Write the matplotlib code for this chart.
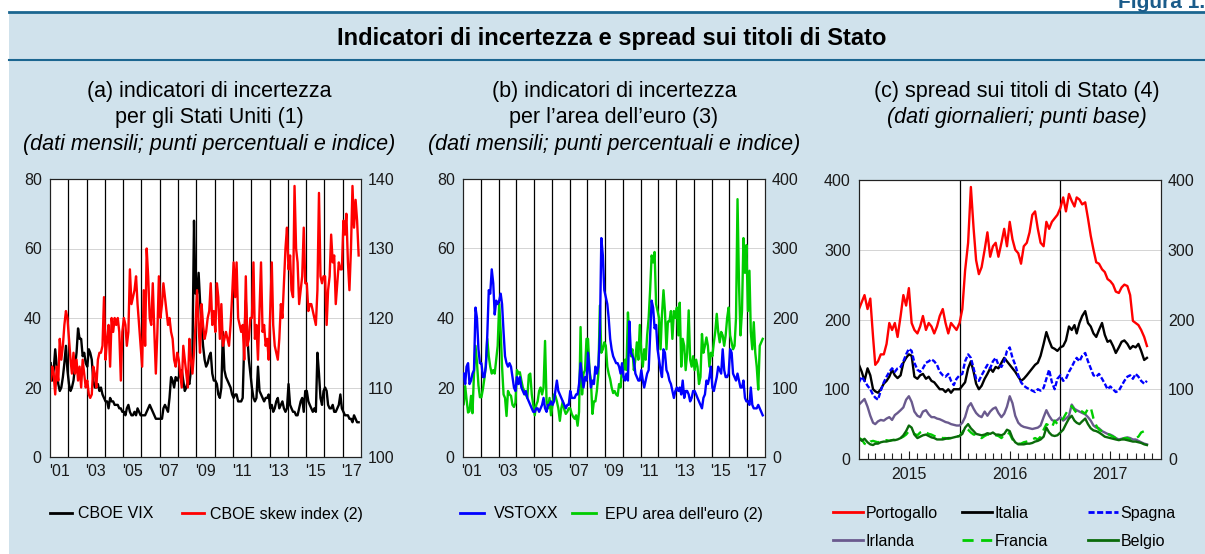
"""
Indicatori di incertezza e spread sui titoli di Stato (three panels)
"""

import matplotlib

matplotlib.use("Agg")
import matplotlib.pyplot as plt
import pandas as pd
from matplotlib.lines import Line2D
from matplotlib.patches import Rectangle

plt.rcParams["font.family"] = ["Liberation Sans", "DejaVu Sans"]

### ---------------- data ---------------- ###
# (a) monthly, Jan 2001 - Nov 2017
cboe_vix = [
    27, 22, 25, 31, 26, 21, 19, 20, 23, 27, 32, 25,
    21, 19, 20, 22, 26, 30, 37, 34, 34, 29, 30, 27,
    26, 31, 30, 28, 22, 20, 20, 21, 19, 20, 18, 17,
    16, 16, 14, 17, 16, 16, 15, 15, 15, 14, 14, 13,
    13, 12, 14, 15, 13, 12, 12, 13, 12, 14, 13, 12,
    12, 12, 12, 13, 14, 15, 14, 13, 12, 11, 11, 11,
    11, 11, 14, 15, 14, 13, 17, 23, 22, 20, 23, 22,
    23, 24, 25, 22, 19, 20, 22, 21, 25, 30, 68, 47,
    47, 53, 45, 38, 32, 28, 26, 27, 29, 30, 24, 22,
    22, 21, 18, 17, 20, 36, 25, 23, 22, 21, 20, 18,
    17, 18, 18, 16, 16, 16, 17, 33, 45, 35, 28, 24,
    20, 17, 16, 17, 26, 19, 18, 17, 16, 17, 17, 18,
    14, 15, 13, 14, 16, 17, 14, 15, 16, 14, 13, 14,
    21, 15, 14, 13, 13, 12, 12, 14, 16, 17, 13, 19,
    19, 16, 15, 14, 13, 14, 13, 30, 24, 17, 15, 19,
    20, 19, 15, 14, 14, 15, 13, 13, 14, 15, 18, 14,
    13, 12, 12, 12, 11, 11, 10, 12, 11, 10, 10,
]
cboe_skew = [
    111, 113, 112, 109, 113, 111, 117, 114, 116, 119, 121, 120,
    117, 114, 112, 115, 112, 114, 111, 113, 110, 114, 112, 110,
    111, 109, 108.5, 109, 113, 112, 110, 114, 115, 115, 116, 123,
    114, 117, 119, 113, 120, 118, 120, 119, 120, 118, 111, 118,
    120, 119, 116, 118, 127, 122, 123, 124, 126, 122, 119, 116,
    113, 124, 116, 130, 126, 120, 119, 125, 118, 112, 118, 126,
    120, 122, 125, 123, 121, 119, 120, 118, 117, 114, 113, 115,
    114, 112, 110, 116, 114, 112, 110, 117, 114, 112, 115, 119,
    124, 119, 115, 122, 119, 117, 118, 120, 121, 125, 119, 121,
    118, 125, 123, 117, 122, 116, 117, 118, 117, 116, 119, 123,
    128, 123, 128, 120, 119, 118, 119, 114, 126, 116, 117, 120,
    120, 128, 117, 119, 114, 121, 128, 118, 119, 116, 117, 114,
    121, 128, 119, 116, 115, 114, 117, 122, 120, 125, 130, 133,
    127, 129, 124, 123, 139, 130, 128, 122, 124, 126, 133, 125,
    125, 121, 122, 122, 121, 120, 119, 124, 138, 126, 125, 126,
    126, 119, 124, 126, 132, 128, 129, 122, 125, 128, 127, 127,
    134, 132, 135, 128, 124, 130, 139, 133, 137, 134, 129,
]
# (b) monthly, Jan 2001 - Nov 2017
vstoxx = [
    24, 21, 26, 27, 21, 22, 24, 25, 43, 40, 31, 27,
    27, 23, 23, 26, 35, 48, 47, 54, 50, 41, 45, 44,
    45, 47, 44, 36, 29, 27, 26, 27, 26, 23, 20, 19,
    23, 21, 23, 20, 19, 18, 19, 17, 16, 15, 14, 13,
    13, 14, 14, 13, 14, 15, 17, 14, 13, 15, 15, 16,
    15, 16, 19, 22, 19, 18, 17, 16, 15, 14, 15, 15,
    19, 17, 17, 17, 18, 18, 21, 27, 23, 20, 23, 22,
    30, 25, 20, 22, 21, 26, 24, 26, 35, 63, 58, 48,
    46, 44, 40, 34, 31, 29, 28, 27, 27, 26, 24, 27,
    23, 22, 24, 22, 39, 30, 29, 28, 24, 23, 22, 22,
    25, 22, 20, 22, 24, 25, 35, 45, 43, 37, 38, 31,
    28, 25, 23, 31, 30, 25, 24, 22, 21, 19, 17, 19,
    20, 19, 20, 18, 22, 17, 19, 19, 18, 16, 17, 19,
    19, 18, 17, 16, 15, 14, 17, 18, 22, 21, 23, 26,
    20, 19, 21, 23, 26, 25, 24, 31, 25, 23, 23, 24,
    31, 30, 24, 23, 22, 24, 22, 20, 20, 22, 17, 16,
    16, 15, 20, 15, 14, 14, 14, 15, 14, 13, 12,
]
epu_euro = [
    76, 102, 83, 64, 66, 88, 63, 120, 160, 136, 103, 86,
    86, 98, 112, 131, 170, 145, 130, 120, 125, 120, 140, 160,
    220, 180, 130, 90, 85, 59, 95, 90, 88, 75, 72, 78,
    125, 120, 122, 110, 100, 95, 90, 85, 118, 120, 90, 75,
    60, 75, 80, 95, 100, 90, 100, 167, 80, 70, 85, 60,
    75, 90, 88, 80, 70, 52, 70, 80, 68, 62, 65, 70,
    70, 62, 58, 55, 60, 45, 65, 187, 90, 120, 125, 170,
    170, 125, 110, 62, 80, 80, 95, 120, 218, 150, 155, 165,
    160, 130, 120, 112, 100, 92, 95, 90, 88, 105, 100, 130,
    125, 140, 125, 208, 170, 145, 155, 125, 140, 165, 140, 190,
    150, 130, 155, 140, 175, 200, 240, 290, 280, 295, 220, 210,
    200, 155, 205, 240, 210, 155, 195, 195, 210, 170, 210, 200,
    215, 175, 222, 130, 170, 160, 125, 150, 211, 140, 130, 145,
    125, 140, 130, 105, 115, 177, 150, 160, 172, 160, 130, 150,
    145, 165, 180, 206, 180, 165, 180, 175, 160, 175, 200, 215,
    175, 165, 155, 160, 200, 371, 250, 175, 210, 315, 265, 305,
    210, 268, 180, 155, 194, 150, 130, 97, 160, 165, 170,
]
# (c) spreads, sampled on the 1st, 11th and 21st of each month, Jan 2015 - Nov 2017
portogallo = [
    215, 225, 235, 215, 230, 175, 135, 140, 150, 150, 165, 195,
    185, 195, 175, 205, 235, 220, 245, 195, 185, 180, 190, 205,
    185, 195, 190, 180, 190, 205, 215, 195, 180, 195, 190, 185,
    195, 215, 270, 310, 390, 330, 285, 265, 275, 300, 325, 290,
    305, 310, 290, 310, 330, 305, 340, 315, 300, 295, 280, 305,
    310, 325, 350, 355, 330, 310, 305, 340, 330, 340, 345, 350,
    360, 375, 355, 380, 370, 362, 375, 372, 365, 368, 345, 320,
    300, 282, 280, 272, 268, 258, 255, 250, 240, 238, 246, 250,
    248, 235, 198, 195, 192, 185, 175, 162,
]
italia = [
    135, 125, 112, 130, 120, 100, 97, 95, 100, 108, 112, 118,
    128, 120, 116, 120, 138, 145, 150, 148, 118, 115, 120, 122,
    115, 118, 112, 110, 105, 100, 100, 96, 100, 95, 100, 100,
    100, 105, 110, 130, 140, 125, 108, 100, 105, 115, 122, 130,
    125, 132, 130, 138, 145, 140, 135, 130, 125, 118, 112, 115,
    120, 125, 130, 135, 138, 148, 165, 182, 170, 160, 158, 155,
    160, 162, 170, 190, 185, 192, 180, 195, 205, 212, 195, 190,
    180, 175, 185, 195, 178, 168, 170, 162, 152, 160, 168, 170,
    165, 158, 162, 160, 165, 155, 142, 145,
]
spagna = [
    110, 118, 112, 105, 100, 92, 88, 85, 98, 110, 118, 125,
    130, 125, 130, 132, 140, 150, 158, 155, 138, 128, 125, 130,
    138, 140, 143, 140, 135, 125, 120, 118, 122, 112, 106, 115,
    120, 122, 140, 150, 145, 130, 115, 112, 120, 128, 135, 130,
    140, 145, 135, 132, 140, 155, 160, 145, 135, 120, 110, 105,
    102, 100, 98, 96, 100, 98, 102, 115, 128, 110, 100, 115,
    120, 112, 115, 125, 132, 140, 145, 140, 148, 152, 140, 130,
    120, 118, 122, 115, 108, 100, 104, 100, 96, 98, 105, 112,
    118, 120, 115, 122, 118, 112, 108, 112,
]
irlanda = [
    78, 82, 86, 75, 62, 52, 50, 54, 56, 55, 58, 60,
    56, 63, 66, 70, 74, 85, 90, 82, 68, 62, 60, 68,
    70, 64, 60, 60, 58, 57, 55, 53, 52, 50, 49, 48,
    48, 52, 60, 75, 80, 72, 66, 62, 60, 68, 62, 68,
    72, 74, 66, 60, 65, 75, 90, 80, 62, 52, 48, 46,
    45, 44, 43, 44, 45, 48, 60, 70, 62, 56, 54, 56,
    60, 55, 58, 62, 78, 72, 70, 68, 66, 64, 60, 55,
    48, 45, 44, 40, 38, 36, 35, 33, 30, 28, 29, 30,
    31, 30, 28, 28, 26, 24, 22, 21,
]
francia = [
    30, 28, 22, 20, 25, 26, 25, 24, 25, 26, 27, 26,
    27, 28, 28, 30, 32, 35, 40, 38, 36, 34, 38, 40,
    38, 36, 35, 33, 32, 31, 30, 30, 29, 30, 31, 32,
    33, 38, 45, 42, 38, 35, 35, 32, 30, 33, 35, 35,
    33, 34, 33, 30, 35, 38, 36, 28, 24, 22, 22, 24,
    25, 26, 28, 30, 28, 32, 42, 50, 48, 45, 55, 50,
    55, 58, 65, 72, 76, 70, 66, 70, 68, 65, 72, 74,
    58, 48, 42, 40, 38, 36, 34, 32, 30, 28, 28, 30,
    30, 28, 28, 30, 32, 38, 40, 38,
]
belgio = [
    30, 26, 29, 24, 21, 20, 22, 22, 24, 25, 25, 26,
    27, 27, 28, 30, 34, 40, 48, 45, 35, 30, 32, 34,
    35, 33, 31, 30, 28, 28, 28, 29, 30, 30, 31, 32,
    33, 36, 45, 50, 44, 40, 36, 35, 34, 35, 37, 36,
    38, 35, 35, 34, 36, 42, 40, 30, 24, 21, 21, 21,
    22, 22, 23, 25, 26, 28, 32, 45, 38, 34, 33, 34,
    38, 42, 50, 58, 62, 55, 52, 50, 54, 58, 50, 44,
    41, 40, 38, 35, 32, 31, 30, 29, 28, 27, 28, 28,
    27, 26, 25, 25, 24, 23, 21, 20,
]
year_labels = ["'01", "'03", "'05", "'07", "'09", "'11", "'13", "'15", "'17"]
spread_labels = ["2015", "2016", "2017"]

### ---------------- layout / style ---------------- ###
W, H = 1205, 554
BG = "#d0e2ec"
RULE = "#1b6690"
TICKSIZE = 11.5
LEGSIZE = 11.5
TITLESIZE = 15.5
months = pd.date_range("2001-01-01", periods=len(cboe_vix), freq="MS") + pd.Timedelta(days=14)
spread_dates = pd.DatetimeIndex(
    [pd.Timestamp(y, m, d) for y in (2015, 2016, 2017) for m in range(1, 13) for d in (1, 11, 21)]
)[: len(portogallo)]


def px_axes(fig, left, top, right, bottom):
    return fig.add_axes([left / W, 1 - bottom / H, (right - left) / W, (bottom - top) / H])


def style_pair(ax, tw, yl, yr):
    ax.set_facecolor("white")
    for a in (ax, tw):
        for sp in a.spines.values():
            sp.set_linewidth(0.8)
            sp.set_color("#222222")
        a.tick_params(axis="y", length=0, labelsize=TICKSIZE, colors="#1a1a1a")
    ax.tick_params(axis="y", pad=6)
    tw.tick_params(axis="y", pad=5)
    ax.set_ylim(*yl)
    tw.set_ylim(*yr)
    ax.set_yticks(range(yl[0], yl[1] + 1, (yl[1] - yl[0]) // 4))
    tw.set_yticks(range(yr[0], yr[1] + 1, (yr[1] - yr[0]) // 4))


def monthly_xaxis(ax, line_ax):
    ax.set_xlim(pd.Timestamp(2001, 1, 1), pd.Timestamp(2018, 1, 1))
    for yr in range(2002, 2018):
        line_ax.axvline(pd.Timestamp(yr, 1, 1), color="black", lw=0.9, zorder=1)
    ax.set_xticks([pd.Timestamp(y, 7, 1) for y in range(2001, 2018, 2)])
    ax.set_xticklabels(year_labels)
    ax.tick_params(axis="x", length=0, labelsize=TICKSIZE, pad=5, colors="#1a1a1a")


fig = plt.figure(figsize=(W / 100, H / 100), dpi=100, facecolor="white")

# header band and rules
fig.patches.append(Rectangle((9 / W, 0), 1, 1 - 12 / H, transform=fig.transFigure,
                             facecolor=BG, edgecolor="none", zorder=-5))
for ypx, lw in ((12, 2.0), (60, 1.5)):
    fig.lines.append(Line2D([9 / W, 1], [1 - ypx / H] * 2, transform=fig.transFigure,
                            color=RULE, lw=lw))
fig.text(1118 / W, 1 - 7.5 / H, "Figura 1.", color="#1b5c8a", fontsize=15,
         fontweight="bold", va="baseline", ha="left")
fig.text(612 / W, 1 - 38 / H, "Indicatori di incertezza e spread sui titoli di Stato",
         ha="center", va="center", fontsize=17, fontweight="bold")

# panel titles
titles = [
    (209, "(a) indicatori di incertezza", "per gli Stati Uniti (1)",
     "(dati mensili; punti percentuali e indice)"),
    (614, "(b) indicatori di incertezza", "per l\u2019area dell\u2019euro (3)",
     "(dati mensili; punti percentuali e indice)"),
    (1017, "(c) spread sui titoli di Stato (4)", "(dati giornalieri; punti base)", None),
]
for xc, l1, l2, l3 in titles:
    fig.text(xc / W, 1 - 92 / H, l1, ha="center", va="center", fontsize=TITLESIZE)
    style2 = "italic" if l3 is None else "normal"
    fig.text(xc / W, 1 - 118 / H, l2, ha="center", va="center", fontsize=TITLESIZE, style=style2)
    if l3:
        fig.text(xc / W, 1 - 145 / H, l3, ha="center", va="center", fontsize=TITLESIZE,
                 style="italic")

LW = 1.7

# ---- panel (a)
ax = px_axes(fig, 50, 179, 361, 457)
tw = ax.twinx()
style_pair(ax, tw, (0, 80), (100, 140))
ax.grid(axis="y", color="#d4d4d4", lw=0.7)
ax.set_axisbelow(True)
monthly_xaxis(ax, ax)
ax.plot(months, cboe_vix, color="black", lw=LW, zorder=3)
tw.plot(months, cboe_skew, color="#ff0000", lw=LW)
fig.legend(handles=[Line2D([], [], color="black", lw=2, label="CBOE VIX"),
                    Line2D([], [], color="#ff0000", lw=2, label="CBOE skew index (2)")],
           loc="center left", bbox_to_anchor=(50 / W, 1 - 514 / H), ncol=2, frameon=False,
           fontsize=LEGSIZE, handlelength=1.4, handletextpad=0.35, columnspacing=1.8,
           borderpad=0, borderaxespad=0)

# ---- panel (b): VSTOXX drawn above the EPU line
ax = px_axes(fig, 463, 179, 765, 457)
tw = ax.twinx()
style_pair(ax, tw, (0, 80), (0, 400))
ax.set_zorder(tw.get_zorder() + 1)
ax.patch.set_visible(False)
tw.patch.set_visible(True)
tw.patch.set_facecolor("white")
tw.grid(axis="y", color="#d4d4d4", lw=0.7)
tw.set_axisbelow(True)
monthly_xaxis(ax, tw)
tw.plot(months, epu_euro, color="#00cc00", lw=LW, zorder=2)
ax.plot(months, vstoxx, color="#0000ff", lw=LW, zorder=3)
fig.legend(handles=[Line2D([], [], color="#0000ff", lw=2, label="VSTOXX"),
                    Line2D([], [], color="#00cc00", lw=2, label="EPU area dell'euro (2)")],
           loc="center left", bbox_to_anchor=(460 / W, 1 - 514 / H), ncol=2, frameon=False,
           fontsize=LEGSIZE, handlelength=1.5, handletextpad=0.6, columnspacing=0.85,
           borderpad=0, borderaxespad=0)

# ---- panel (c)
ax = px_axes(fig, 859, 180, 1161, 459)
tw = ax.twinx()
style_pair(ax, tw, (0, 400), (0, 400))
ax.grid(axis="y", color="#d4d4d4", lw=0.7)
ax.set_axisbelow(True)
ax.set_xlim(pd.Timestamp(2015, 1, 1), pd.Timestamp(2018, 1, 1))
for yr in (2016, 2017):
    ax.axvline(pd.Timestamp(yr, 1, 1), color="black", lw=0.9, zorder=1)
ax.set_xticks([pd.Timestamp(y, 7, 1) for y in (2015, 2016, 2017)])
ax.set_xticklabels(spread_labels)
ax.set_xticks([pd.Timestamp(y, m, 1) for y in (2015, 2016, 2017) for m in range(2, 13) if m != 7],
              minor=True)
ax.tick_params(axis="x", which="major", direction="in", length=6, width=0.8,
               labelsize=TICKSIZE, pad=6, colors="#1a1a1a")
ax.tick_params(axis="x", which="minor", direction="in", length=4, width=0.8, color="#222222")

spread_series = [
    ("Portogallo", portogallo, "#ff0000", "-"),
    ("Italia", italia, "black", "-"),
    ("Spagna", spagna, "#0000ff", (0, (2.2, 0.9))),
    ("Irlanda", irlanda, "#6a5a8e", "-"),
    ("Francia", francia, "#00cc00", (0, (4, 2.7))),
    ("Belgio", belgio, "#0a6b0a", "-"),
]
handles = {}
for name, vals, col, ls in spread_series:
    ax.plot(spread_dates, vals, color=col, lw=LW, ls=ls, zorder=3)
    handles[name] = Line2D([], [], color=col, lw=2, ls=ls, label=name)

for xpx, pair in ((833, ("Portogallo", "Irlanda")), (962, ("Italia", "Francia")),
                  (1088, ("Spagna", "Belgio"))):
    fig.legend(handles=[handles[n] for n in pair], loc="upper left",
               bbox_to_anchor=(xpx / W, 1 - 506 / H), ncol=1, frameon=False,
               fontsize=LEGSIZE, handlelength=1.9, handletextpad=0.15, labelspacing=0.8,
               borderpad=0, borderaxespad=0)

fig.savefig("out.png", dpi=100, facecolor="white")
